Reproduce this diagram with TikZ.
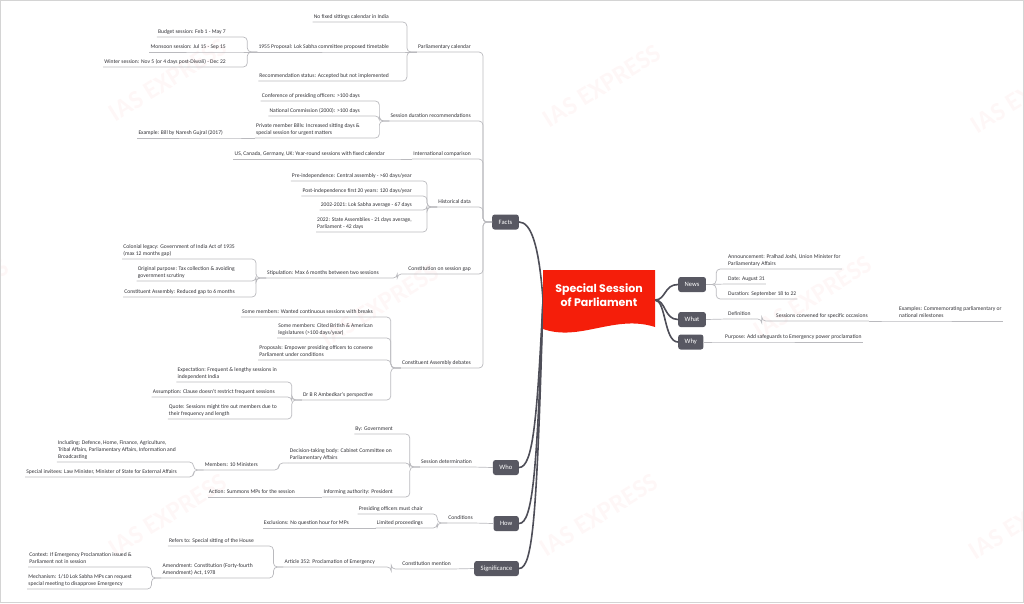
\documentclass[tikz,border=0pt]{standalone}
\usepackage{fontspec}
\setmainfont{Carlito}
\newfontfamily\rootfont{Poppins}
\usepackage{tikz}
\definecolor{linkgrey}{RGB}{186,186,190}
\definecolor{trunkgrey}{RGB}{78,78,88}
\definecolor{topicgrey}{RGB}{88,88,98}
\definecolor{rootred}{RGB}{245,30,10}
\definecolor{textgrey}{RGB}{50,50,55}
\definecolor{framegrey}{RGB}{212,212,212}
\definecolor{wmred}{RGB}{235,40,40}

\begin{document}
\begin{tikzpicture}[x=1pt, y=-1pt,
  leaf/.style={font=\fontsize{5.6}{7.3}\selectfont, text=textgrey, align=left,
    inner xsep=1pt, inner ysep=1.4pt, execute at end node={\rule[-1.5pt]{0pt}{1pt}}},
  lleaf/.style={leaf, anchor=south east},
  rleaf/.style={leaf, anchor=south west},
  topic/.style={fill=topicgrey, text=white, rounded corners=2.5pt,
    font=\fontsize{6.6}{8}\selectfont, minimum height=15pt, inner xsep=6.5pt, inner ysep=0pt},
  roottext/.style={text=white, align=center, font=\rootfont\bfseries\fontsize{11}{14}\selectfont},
  link/.style={draw=linkgrey, line width=0.7pt, rounded corners=4pt},
  trunk/.style={draw=trunkgrey, line width=1.6pt, line cap=round},
  wmark/.style={text=wmred, text opacity=0.035, rotate=32, font=\bfseries\fontsize{26}{26}\selectfont}]
\useasboundingbox (0,0) rectangle (1024,603);
%
\node[wmark] (wm1) at (168,80) {IAS EXPRESS};
\node[wmark] (wm2) at (602,86) {IAS EXPRESS};
\node[wmark] (wm3) at (1030,92) {IAS EXPRESS};
\node[wmark] (wm4) at (-50,300) {IAS EXPRESS};
\node[wmark] (wm5) at (380,305) {IAS EXPRESS};
\node[wmark] (wm6) at (813,297) {IAS EXPRESS};
\node[wmark] (wm7) at (168,515) {IAS EXPRESS};
\node[wmark] (wm8) at (599,515) {IAS EXPRESS};
\node[wmark] (wm9) at (1028,518) {IAS EXPRESS};
%
\draw[framegrey, line width=1.2pt] (0.6,0.6) rectangle (1023.4,602.4);
%
\coordinate (rootL) at (543,300);
\coordinate (rootR) at (655,300);
\node[topic, anchor=east] (facts) at (519,222) {Facts};
\node[topic, anchor=east] (who) at (519,467.5) {Who};
\node[topic, anchor=east] (how) at (519,523.5) {How};
\node[topic, anchor=east] (sig) at (519,568.5) {Significance};
\node[topic, anchor=west] (news) at (678,284.5) {News};
\node[topic, anchor=west] (what) at (678,319.5) {What};
\node[topic, anchor=west] (why) at (678,342) {Why};
%
\draw[trunk] (rootL) .. controls (539,245) and (531,222) .. (facts.east);
\draw[trunk] (rootL) .. controls (537,420) and (533,467.5) .. (who.east);
\draw[trunk] (rootL) .. controls (537,470) and (533,523.5) .. (how.east);
\draw[trunk] (rootL) .. controls (537,515) and (533,568.5) .. (sig.east);
\draw[trunk] (rootR) .. controls (666,300) and (664,284.5) .. (news.west);
\draw[trunk] (rootR) .. controls (666,300) and (664,319.5) .. (what.west);
\draw[trunk] (rootR) .. controls (666,300) and (664,342) .. (why.west);
%
\fill[rootred] (543,270) -- (655,270) -- (655,327) .. controls (615,314) and (580,342) .. (543,329) -- cycle;
\node[roottext] (root) at (599,295) {Special Session\\of Parliament};
%
\node[lleaf] (pcal) at (472,52) {Parliamentary calendar};
\node[lleaf] (sdur) at (472,121) {Session duration recommendations};
\node[lleaf] (intl) at (472,159) {International comparison};
\node[lleaf] (hist) at (472,207) {Historical data};
\node[lleaf] (cgap) at (472,274) {Constitution on session gap};
\node[lleaf] (cad) at (472,368) {Constituent Assembly debates};
%
\node[lleaf] (nofix) at (390,22) {No fixed sittings calendar in India};
\node[lleaf] (p1955) at (390,52) {1955 Proposal: Lok Sabha committee proposed timetable};
\node[lleaf] (recst) at (390,81) {Recommendation status: Accepted but not implemented};
\node[lleaf] (budg) at (227,37) {Budget session: Feb 1 - May 7};
\node[lleaf] (mons) at (227,52) {Monsoon session: Jul 15 - Sep 15};
\node[lleaf] (wint) at (227,67) {Winter session: Nov 5 (or 4 days post-Diwali) - Dec 22};
%
\node[lleaf] (conf) at (361,101) {Conference of presiding officers: >100 days};
\node[lleaf] (ncom) at (361,116) {National Commission (2000): >100 days};
\node[lleaf] (pmb) at (361,138) {Private member Bills: Increased sitting days \&\\special session for urgent matters};
\node[lleaf] (exbill) at (224,138) {Example: Bill by Naresh Gujral (2017)};
\node[lleaf] (usca) at (386,159) {US, Canada, Germany, UK: Year-round sessions with fixed calendar};
%
\node[lleaf] (pre) at (413,181) {Pre-independence: Central assembly - >60 days/year};
\node[lleaf] (post) at (413,196) {Post-independence first 20 years: 120 days/year};
\node[lleaf] (avg) at (413,210) {2002-2021: Lok Sabha average - 67 days};
\node[lleaf] (s2022) at (413,232) {2022: State Assemblies - 21 days average,\\Parliament - 42 days};
%
\node[lleaf] (stip) at (380,278) {Stipulation: Max 6 months between two sessions};
\node[lleaf] (colo) at (236,259) {Colonial legacy: Government of India Act of 1935\\(max 12 months gap)};
\node[lleaf] (orig) at (236,281) {Original purpose: Tax collection \& avoiding\\government scrutiny};
\node[lleaf] (cared) at (236,297) {Constituent Assembly: Reduced gap to 6 months};
%
\node[lleaf] (smw) at (374,317) {Some members: Wanted continuous sessions with breaks};
\node[lleaf] (smc) at (374,338) {Some members: Cited British \& American\\legislatures (>100 days/year)};
\node[lleaf] (prop) at (374,360) {Proposals: Empower presiding officers to convene\\Parliament under conditions};
\node[lleaf] (ambk) at (374,400) {Dr B R Ambedkar's perspective};
\node[lleaf] (expc) at (278,382) {Expectation: Frequent \& lengthy sessions in\\independent India};
\node[lleaf] (assm) at (276,397) {Assumption: Clause doesn't restrict frequent sessions};
\node[lleaf] (quot) at (278,419) {Quote: Sessions might tire out members due to\\their frequency and length};
%
\node[lleaf] (sdet) at (473,467) {Session determination};
\node[lleaf] (bygov) at (394,434) {By: Government};
\node[lleaf] (dtb) at (393,463) {Decision-taking body: Cabinet Committee on\\Parliamentary Affairs};
\node[lleaf] (infa) at (394,497) {Informing authority: President};
\node[lleaf] (memb) at (259,470) {Members: 10 Ministers};
\node[lleaf] (incl) at (177,462) {Including: Defence, Home, Finance, Agriculture,\\Tribal Affairs, Parliamentary Affairs, Information and\\Broadcasting};
\node[lleaf] (spec) at (178,477) {Special invitees: Law Minister, Minister of State for External Affairs};
\node[lleaf] (actn) at (296,497) {Action: Summons MPs for the session};
%
\node[lleaf] (cond) at (474,523) {Conditions};
\node[lleaf] (pres) at (424,514) {Presiding officers must chair};
\node[lleaf] (limp) at (424,528) {Limited proceedings};
\node[lleaf] (excl) at (350,528) {Exclusions: No question hour for MPs};
%
\node[lleaf] (cmen) at (452,569) {Constitution mention};
\node[lleaf] (art) at (376,567) {Article 352: Proclamation of Emergency};
\node[lleaf] (refr) at (255,546) {Refers to: Special sitting of the House};
\node[lleaf] (amnd) at (254,578) {Amendment: Constitution (Forty-fourth\\Amendment) Act, 1978};
\node[lleaf] (ctxt) at (133,567) {Context: If Emergency Proclamation issued \&\\Parliament not in session};
\node[lleaf] (mech) at (133,589) {Mechanism: 1/10 Lok Sabha MPs can request\\special meeting to disapprove Emergency};
%
\node[rleaf] (anno) at (727,269) {Announcement: Pralhad Joshi, Union Minister for\\Parliamentary Affairs};
\node[rleaf] (date) at (727,284) {Date: August 31};
\node[rleaf] (dura) at (727,299) {Duration: September 18 to 22};
\node[rleaf] (defn) at (727,319) {Definition};
\node[rleaf] (sess) at (775,321) {Sessions convened for specific occasions};
\node[rleaf] (exmp) at (898,321) {Examples: Commemorating parliamentary or\\national milestones};
\node[rleaf] (purp) at (724,342) {Purpose: Add safeguards to Emergency power proclamation};
%
\draw[link] (facts.west) -- ++(-9,0) |- (pcal.south east) -- (pcal.south west);
\draw[link] (facts.west) -- ++(-9,0) |- (sdur.south east) -- (sdur.south west);
\draw[link] (facts.west) -- ++(-9,0) |- (intl.south east) -- (intl.south west);
\draw[link] (facts.west) -- ++(-9,0) |- (hist.south east) -- (hist.south west);
\draw[link] (facts.west) -- ++(-9,0) |- (cgap.south east) -- (cgap.south west);
\draw[link] (facts.west) -- ++(-9,0) |- (cad.south east) -- (cad.south west);
%
\draw[link] (pcal.south west) -- ++(-10,0) |- (nofix.south east) -- (nofix.south west);
\draw[link] (pcal.south west) -- (p1955.south east) -- (p1955.south west);
\draw[link] (pcal.south west) -- ++(-10,0) |- (recst.south east) -- (recst.south west);
\draw[link] (p1955.south west) -- ++(-10,0) |- (budg.south east) -- (budg.south west);
\draw[link] (p1955.south west) -- (mons.south east) -- (mons.south west);
\draw[link] (p1955.south west) -- ++(-10,0) |- (wint.south east) -- (wint.south west);
%
\draw[link] (sdur.south west) -- ++(-10,0) |- (conf.south east) -- (conf.south west);
\draw[link] (sdur.south west) -- ++(-10,0) |- (ncom.south east) -- (ncom.south west);
\draw[link] (sdur.south west) -- ++(-10,0) |- (pmb.south east) -- (pmb.south west);
\draw[link] (pmb.south west) -- (exbill.south east) -- (exbill.south west);
\draw[link] (intl.south west) -- (usca.south east) -- (usca.south west);
%
\draw[link] (hist.south west) -- ++(-10,0) |- (pre.south east) -- (pre.south west);
\draw[link] (hist.south west) -- ++(-10,0) |- (post.south east) -- (post.south west);
\draw[link] (hist.south west) -- ++(-10,0) |- (avg.south east) -- (avg.south west);
\draw[link] (hist.south west) -- ++(-10,0) |- (s2022.south east) -- (s2022.south west);
%
\draw[link] (cgap.south west) -- ++(-10,0) |- (stip.south east) -- (stip.south west);
\draw[link] (stip.south west) -- ++(-10,0) |- (colo.south east) -- (colo.south west);
\draw[link] (stip.south west) -- ++(-10,0) |- (orig.south east) -- (orig.south west);
\draw[link] (stip.south west) -- ++(-10,0) |- (cared.south east) -- (cared.south west);
%
\draw[link] (cad.south west) -- ++(-10,0) |- (smw.south east) -- (smw.south west);
\draw[link] (cad.south west) -- ++(-10,0) |- (smc.south east) -- (smc.south west);
\draw[link] (cad.south west) -- ++(-10,0) |- (prop.south east) -- (prop.south west);
\draw[link] (cad.south west) -- ++(-10,0) |- (ambk.south east) -- (ambk.south west);
\draw[link] (ambk.south west) -- ++(-10,0) |- (expc.south east) -- (expc.south west);
\draw[link] (ambk.south west) -- ++(-10,0) |- (assm.south east) -- (assm.south west);
\draw[link] (ambk.south west) -- ++(-10,0) |- (quot.south east) -- (quot.south west);
%
\draw[link] (who.west) -- (sdet.south east) -- (sdet.south west);
\draw[link] (sdet.south west) -- ++(-10,0) |- (bygov.south east) -- (bygov.south west);
\draw[link] (sdet.south west) -- ++(-10,0) |- (dtb.south east) -- (dtb.south west);
\draw[link] (sdet.south west) -- ++(-10,0) |- (infa.south east) -- (infa.south west);
\draw[link] (dtb.south west) -- ++(-10,0) |- (memb.south east) -- (memb.south west);
\draw[link] (memb.south west) -- ++(-10,0) |- (incl.south east) -- (incl.south west);
\draw[link] (memb.south west) -- ++(-10,0) |- (spec.south east) -- (spec.south west);
\draw[link] (infa.south west) -- (actn.south east) -- (actn.south west);
%
\draw[link] (how.west) -- (cond.south east) -- (cond.south west);
\draw[link] (cond.south west) -- ++(-10,0) |- (pres.south east) -- (pres.south west);
\draw[link] (cond.south west) -- ++(-10,0) |- (limp.south east) -- (limp.south west);
\draw[link] (limp.south west) -- (excl.south east) -- (excl.south west);
%
\draw[link] (sig.west) -- (cmen.south east) -- (cmen.south west);
\draw[link] (cmen.south west) -- ++(-10,0) |- (art.south east) -- (art.south west);
\draw[link] (art.south west) -- ++(-10,0) |- (refr.south east) -- (refr.south west);
\draw[link] (art.south west) -- ++(-10,0) |- (amnd.south east) -- (amnd.south west);
\draw[link] (amnd.south west) -- ++(-10,0) |- (ctxt.south east) -- (ctxt.south west);
\draw[link] (amnd.south west) -- ++(-10,0) |- (mech.south east) -- (mech.south west);
%
\draw[link] (news.east) -- ++(10,0) |- (anno.south west) -- (anno.south east);
\draw[link] (news.east) -- (date.south west) -- (date.south east);
\draw[link] (news.east) -- ++(10,0) |- (dura.south west) -- (dura.south east);
\draw[link] (what.east) -- (defn.south west) -- (defn.south east);
\draw[link] (defn.south east) -- ++(10,0) |- (sess.south west) -- (sess.south east);
\draw[link] (sess.south east) -- (exmp.south west) -- (exmp.south east);
\draw[link] (why.east) -- (purp.south west) -- (purp.south east);
\end{tikzpicture}
\end{document}
